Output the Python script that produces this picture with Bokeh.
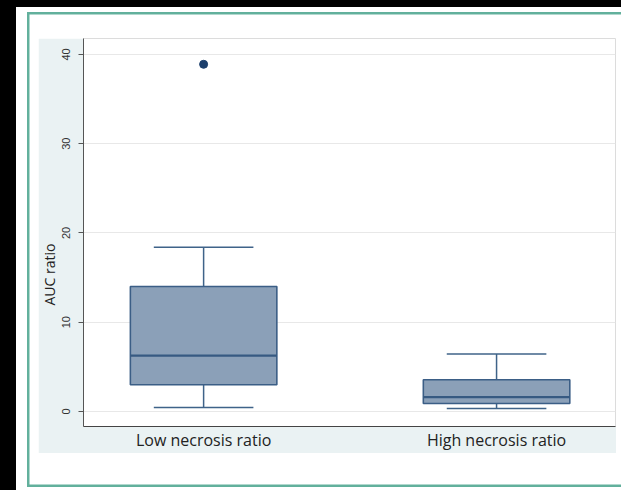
import numpy as np
from bokeh.plotting import figure
from bokeh.models import Range1d, FixedTicker, Title
from bokeh.embed import file_html
from bokeh.resources import INLINE

# ---- data ----
categories = ["Low necrosis ratio", "High necrosis ratio"]
positions = [1, 2]
lower_whisker = [0.45, 0.35]
q1 = [3.0, 0.9]
median = [6.25, 1.6]
q3 = [14.0, 3.55]
upper_whisker = [18.4, 6.45]
outlier_group = [1]
outlier_value = [38.9]
y_ticks = [0, 10, 20, 30, 40]

BOX_W = 0.50
CAP_W = 0.34

# graph region (light bluish gray) placed at (38, 38) on the page, 578 x 415
p = figure(width=578, height=415, output_backend="svg", toolbar_location=None,
           x_range=Range1d(0.59, 2.406), y_range=Range1d(-1.68, 41.79),
           min_border_left=45, min_border_right=1, min_border_top=0,
           min_border_bottom=27, margin=(38, 0, 0, 38),
           background_fill_color="white", border_fill_color="#eaf2f3",
           outline_line_color="#dcdcdc")

# white surround, teal frame and black edge of the original figure
p.styles = {
    "box-shadow": ("19px 4px 0 27.5px #ffffff, 19px 4px 0 30px #62b09c, "
                   "18px 9px 0 40px #ffffff, 0 0 0 2000px #000000")
}

# grid
p.xgrid.visible = False
p.ygrid.ticker = FixedTicker(ticks=y_ticks)
p.ygrid.grid_line_color = "#e8e8e8"
p.ygrid.grid_line_width = 1

# y axis
p.yaxis.ticker = FixedTicker(ticks=y_ticks)
p.yaxis.major_label_orientation = "vertical"
p.yaxis.minor_tick_line_color = None
p.yaxis.major_tick_out = 5
p.yaxis.major_tick_in = 0
p.yaxis.major_tick_line_color = "#555555"
p.yaxis.axis_line_color = "#555555"
p.yaxis.major_label_standoff = 8
p.yaxis.major_label_text_font = "Liberation Sans"
p.yaxis.major_label_text_font_size = "11px"
p.yaxis.major_label_text_color = "#333333"

# y axis title (placed in the left panel, offset along the axis as in the original)
p.add_layout(Title(text="AUC ratio", align="left", offset=121, standoff=0,
                   vertical_align="middle",
                   text_font="Open Sans", text_font_size="14px",
                   text_font_style="normal", text_color="#222222"), "left")

# x axis
p.xaxis.ticker = FixedTicker(ticks=positions)
p.xaxis.major_label_overrides = {pos: cat for pos, cat in zip(positions, categories)}
p.xaxis.major_tick_line_color = None
p.xaxis.minor_tick_line_color = None
p.xaxis.major_tick_out = 0
p.xaxis.major_tick_in = 0
p.xaxis.axis_line_color = "#444444"
p.xaxis.axis_line_width = 1.2
p.xaxis.major_label_standoff = 2
p.xaxis.major_label_text_font = "Open Sans"
p.xaxis.major_label_text_font_size = "16px"
p.xaxis.major_label_text_color = "#222222"

x = np.array(positions, dtype=float)
line_c = "#3f6389"

# whiskers
p.segment(x0=x, x1=x, y0=q3, y1=upper_whisker, line_color=line_c, line_width=1.5)
p.segment(x0=x, x1=x, y0=lower_whisker, y1=q1, line_color=line_c, line_width=1.5)
p.segment(x0=x - CAP_W / 2, x1=x + CAP_W / 2, y0=upper_whisker, y1=upper_whisker,
          line_color=line_c, line_width=1.5)
p.segment(x0=x - CAP_W / 2, x1=x + CAP_W / 2, y0=lower_whisker, y1=lower_whisker,
          line_color=line_c, line_width=1.5)

# boxes
p.vbar(x=x, bottom=q1, top=q3, width=BOX_W, fill_color="#8ba0b8",
       line_color="#3b5e86", line_width=1.6)
p.segment(x0=x - BOX_W / 2, x1=x + BOX_W / 2, y0=median, y1=median,
          line_color="#375a82", line_width=2.2)

# outlier
p.scatter(outlier_group, outlier_value, size=8, color="#1c3f6c")

open("out.html", "w").write(file_html(p, INLINE))
